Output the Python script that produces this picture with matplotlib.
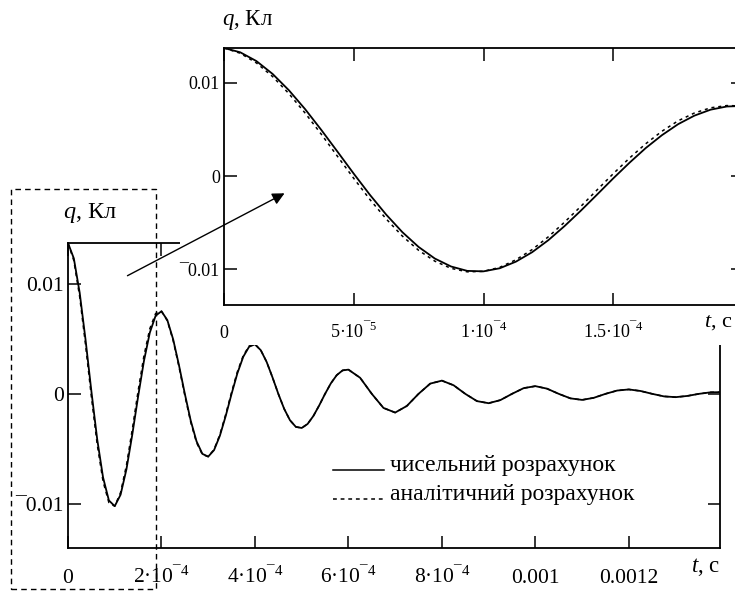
import matplotlib
matplotlib.use("Agg")
import matplotlib.pyplot as plt
import matplotlib.patches as mpatches
from matplotlib.lines import Line2D

plt.rcParams['font.family'] = ['Liberation Serif', 'DejaVu Serif']
plt.rcParams['mathtext.fontset'] = 'custom'
plt.rcParams['mathtext.rm'] = 'Liberation Serif'
plt.rcParams['mathtext.it'] = 'Liberation Serif:italic'

# час, мкс (головний графік)
t_main_us = [0, 12.5, 25, 37.5, 50, 62.5, 75, 87.5, 100, 112.5, 125, 137.5, 150, 162.5, 175, 187.5,
             200, 212.5, 225, 237.5, 250, 262.5, 275, 287.5, 300, 312.5, 325, 337.5, 350, 362.5, 375, 387.5,
             400, 412.5, 425, 437.5, 450, 462.5, 475, 487.5, 500, 512.5, 525, 537.5, 550, 562.5, 575, 587.5,
             600, 625, 650, 675, 700, 725, 750, 775, 800, 825, 850, 875, 900, 925, 950, 975,
             1000, 1025, 1050, 1075, 1100, 1125, 1150, 1175, 1200, 1225, 1250, 1275, 1300, 1325, 1350, 1375, 1395]
# заряд, мКл: чисельний розрахунок
q_num_main = [13.70, 12.30, 9.18, 4.93, 0.25, -4.13, -7.59, -9.68, -10.20, -9.16, -6.86, -3.71, -0.25, 2.99, 5.55, 7.10,
              7.50, 6.70, 4.95, 2.59, 0.0, -2.42, -4.31, -5.45, -5.70, -5.11, -3.80, -2.00, 0.0, 1.88, 3.37, 4.28,
              4.50, 3.96, 2.90, 1.50, 0.0, -1.36, -2.40, -3.00, -3.10, -2.74, -2.01, -1.05, 0.0, 0.96, 1.70, 2.13,
              2.20, 1.46, 0.0, -1.28, -1.70, -1.10, 0.0, 0.93, 1.20, 0.78, 0.0, -0.66, -0.85, -0.57, 0.0, 0.52,
              0.70, 0.47, 0.0, -0.41, -0.55, -0.36, 0.0, 0.30, 0.40, 0.26, 0.0, -0.23, -0.30, -0.19, 0.0, 0.14, 0.15]
# заряд, мКл: аналітичний розрахунок
q_an_main = [13.70, 12.10, 8.82, 4.47, -0.25, -4.59, -7.95, -9.88, -10.20, -8.96, -6.50, -3.25, 0.25, 3.45, 5.91, 7.30,
             7.50, 6.64, 4.84, 2.45, -0.15, -2.56, -4.42, -5.51, -5.70, -5.05, -3.69, -1.86, 0.15, 2.02, 3.48, 4.34,
             4.50, 3.96, 2.90, 1.50, 0.0, -1.36, -2.40, -3.00, -3.10, -2.74, -2.01, -1.05, 0.0, 0.96, 1.70, 2.13,
             2.20, 1.46, 0.0, -1.28, -1.70, -1.10, 0.0, 0.93, 1.20, 0.78, 0.0, -0.66, -0.85, -0.57, 0.0, 0.52,
             0.70, 0.47, 0.0, -0.41, -0.55, -0.36, 0.0, 0.30, 0.40, 0.26, 0.0, -0.23, -0.30, -0.19, 0.0, 0.14, 0.15]

# збільшений фрагмент (перший період)
t_zoom_us = [0, 6.25, 12.5, 18.75, 25, 31.25, 37.5, 43.75, 50, 56.25, 62.5, 68.75, 75, 81.25, 87.5, 93.75,
             100, 106.25, 112.5, 118.75, 125, 131.25, 137.5, 143.75, 150, 156.25, 162.5, 168.75, 175, 181.25,
             187.5, 193.75, 200]
q_num_zoom = [13.70, 13.24, 12.30, 10.92, 9.18, 7.16, 4.93, 2.60, 0.25, -2.02, -4.13, -6.01, -7.59, -8.83, -9.68, -10.15,
              -10.20, -9.87, -9.16, -8.15, -6.86, -5.35, -3.71, -1.99, -0.25, 1.42, 2.99, 4.37, 5.55, 6.46,
              7.10, 7.44, 7.50]
q_an_zoom = [13.70, 13.14, 12.10, 10.64, 8.82, 6.74, 4.47, 2.10, -0.25, -2.52, -4.59, -6.43, -7.95, -9.11, -9.88, -10.25,
             -10.20, -9.77, -8.96, -7.87, -6.50, -4.93, -3.25, -1.49, 0.25, 1.92, 3.45, 4.79, 5.91, 6.74,
             7.30, 7.54, 7.50]

main_xticks = [0, 2e-4, 4e-4, 6e-4, 8e-4, 0.001, 0.0012]
main_xlabels = ['0', r'$2·10^{¯4}$', r'$4·10^{¯4}$', r'$6·10^{¯4}$', r'$8·10^{¯4}$', '0.001', '0.0012']
zoom_xticks = [0, 5e-5, 1e-4, 1.5e-4]
zoom_xlabels = ['0', r'$5·10^{¯5}$', r'$1·10^{¯4}$', r'$1.5·10^{¯4}$']
yticks = [0.01, 0, -0.01]
ylabels = ['0.01', '0', '\u00af0.01']

W, H = 735, 591
fig = plt.figure(figsize=(W / 100, H / 100), dpi=100)


def fx(px):
    return px / W


def fy(py):
    return 1 - py / H


def style_axes(ax, size, tpad):
    for s in ax.spines.values():
        s.set_linewidth(1.3)
    ax.tick_params(direction='in', length=9, width=1.1, top=True, right=True,
                   labelsize=size, pad=3)
    ax.tick_params(axis='x', pad=tpad)
    for lab in ax.get_xticklabels():
        lab.set_verticalalignment('baseline')


# головний графік
ax = fig.add_axes([fx(68), fy(548), fx(720 - 68), (548 - 243) / H])
ax.plot([t * 1e-6 for t in t_main_us], [q * 1e-3 for q in q_num_main], color='black', lw=1.3)
ax.plot([t * 1e-6 for t in t_main_us], [q * 1e-3 for q in q_an_main], color='black', lw=1.1,
        dashes=(2.5, 2.5))
ax.set_xlim(0, 1.395e-3)
ax.set_ylim(-0.0140, 0.0137)
ax.set_xticks(main_xticks, labels=main_xlabels)
ax.set_yticks(yticks, labels=ylabels)
style_axes(ax, 15.5, 25)
ax.text(1.0, -0.08, r'$t$, с', transform=ax.transAxes, ha='right', va='baseline', fontsize=16.5)
fig.text(fx(63), fy(213), r'$q$, Кл', ha='left', va='center', fontsize=17.5)

# білий фон під вставкою
fig.patches.append(mpatches.Rectangle((fx(180), fy(345)), fx(W - 180), 345 / H, transform=fig.transFigure,
                                      facecolor='white', edgecolor='none', zorder=1))

# вставка
axz = fig.add_axes([fx(224), fy(305), fx(743 - 224), (305 - 48) / H])
axz.set_zorder(2)
axz.plot([t * 1e-6 for t in t_zoom_us], [q * 1e-3 for q in q_num_zoom], color='black', lw=1.3)
axz.plot([t * 1e-6 for t in t_zoom_us], [q * 1e-3 for q in q_an_zoom], color='black', lw=1.1,
         dashes=(2, 2.5))
axz.set_xlim(0, 2e-4)
axz.set_ylim(-0.0138, 0.0137)
axz.set_xticks(zoom_xticks, labels=zoom_xlabels)
axz.set_yticks(yticks, labels=ylabels)
style_axes(axz, 13, 24)
fig.text(fx(733), fy(327), r'$t$, с', ha='right', va='baseline', fontsize=16, zorder=4)
fig.text(fx(222), fy(20), r'$q$, Кл', ha='left', va='center', fontsize=16.5)

# стрілка і пунктирна рамка
fig.add_artist(mpatches.FancyArrowPatch((fx(125), fy(277)), (fx(287), fy(192)), transform=fig.transFigure,
                                        arrowstyle='-|>', mutation_scale=18, lw=1.0, color='black', zorder=5))
fig.add_artist(mpatches.Rectangle((fx(11), fy(589)), fx(156 - 11), (589 - 189) / H, transform=fig.transFigure,
                                  fill=False, edgecolor='black', lw=1.0, ls=(0, (4, 3)), zorder=5))

# легенда
fig.add_artist(Line2D([fx(333), fx(384)], [fy(470), fy(470)], transform=fig.transFigure, color='black', lw=1.1))
fig.add_artist(Line2D([fx(333), fx(384)], [fy(499), fy(499)], transform=fig.transFigure, color='black', lw=1.1,
                      dashes=(2.5, 2.5)))
fig.text(fx(390), fy(471), 'чисельний розрахунок', ha='left', va='baseline', fontsize=17)
fig.text(fx(390), fy(500), 'аналітичний розрахунок', ha='left', va='baseline', fontsize=17)

fig.savefig('out.png', dpi=100)
